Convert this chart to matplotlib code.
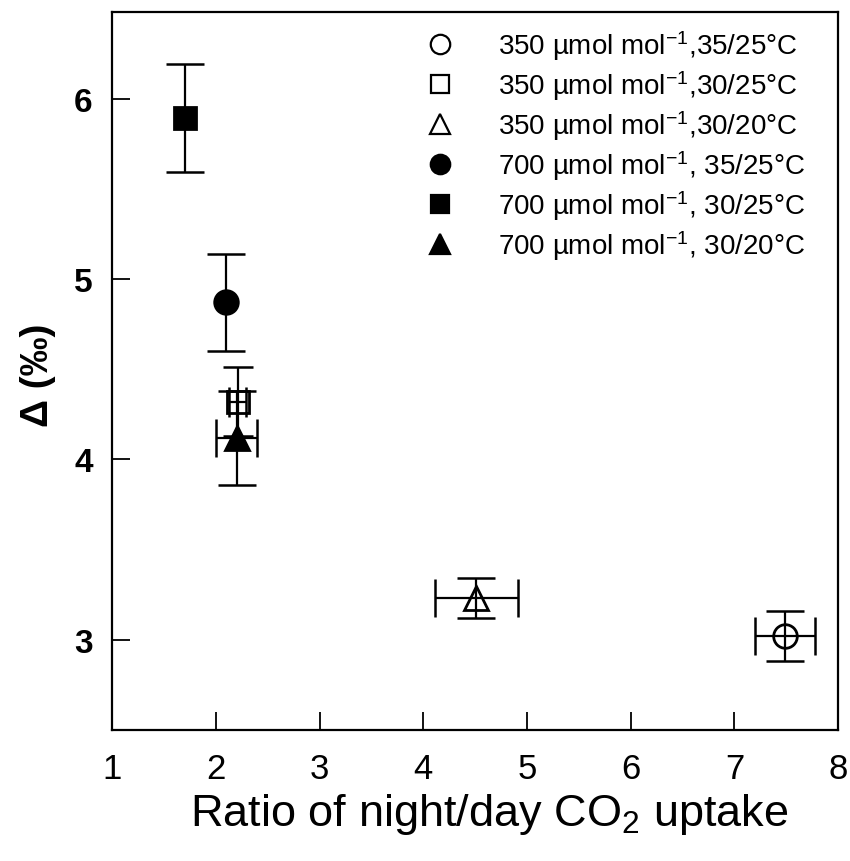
import matplotlib
matplotlib.use("Agg")
import matplotlib.pyplot as plt
from matplotlib.lines import Line2D

plt.rcParams['font.family'] = ['Liberation Sans', 'DejaVu Sans']
plt.rcParams['mathtext.fontset'] = 'custom'
plt.rcParams['mathtext.rm'] = 'Liberation Sans'
plt.rcParams['mathtext.it'] = 'Liberation Sans:italic'
plt.rcParams['mathtext.bf'] = 'Liberation Sans:bold'

labels = [
    "350 µmol mol$^{-1}$,35/25°C",
    "350 µmol mol$^{-1}$,30/25°C",
    "350 µmol mol$^{-1}$,30/20°C",
    "700 µmol mol$^{-1}$, 35/25°C",
    "700 µmol mol$^{-1}$, 30/25°C",
    "700 µmol mol$^{-1}$, 30/20°C",
]
markers = ['o', 's', '^', 'o', 's', '^']
filled = [False, False, False, True, True, True]
ratio = [7.49, 2.21, 4.51, 2.10, 1.70, 2.20]
ratio_err = [0.29, 0.08, 0.40, 0.0, 0.0, 0.20]
delta = [3.02, 4.32, 3.23, 4.87, 5.89, 4.12]
delta_err = [0.14, 0.19, 0.11, 0.27, 0.30, 0.26]

fig = plt.figure(figsize=(8.5, 8.62), dpi=100)
ax = fig.add_axes([0.132, 0.152, 0.854, 0.833])

msize = {'o': 17, 's': 15.5, '^': 17}
lsize = {'o': 14, 's': 13, '^': 14}
handles = []
for lab, m, f, x, xe, y, ye in zip(labels, markers, filled, ratio, ratio_err, delta, delta_err):
    fc = 'black' if f else 'none'
    ax.errorbar(x, y, xerr=xe if xe > 0 else None, yerr=ye, fmt='none',
                ecolor='black', elinewidth=1.6, capsize=14 if xe != 0.08 else 11,
                capthick=1.8, zorder=2)
    ax.plot(x, y, marker=m, markersize=msize[m], markerfacecolor=fc,
            markeredgecolor='black', markeredgewidth=2.0, linestyle='none', zorder=3)
    handles.append(Line2D([], [], marker=m, markersize=lsize[m],
                          markerfacecolor='black' if f else 'white',
                          markeredgecolor='black', markeredgewidth=1.6, linestyle='none'))

ax.set_xlim(1, 8)
ax.set_ylim(2.5, 6.48)
ax.set_xticks(range(1, 9))
ax.set_yticks([3, 4, 5, 6])
ax.tick_params(axis='both', direction='in', length=13, width=1.3)
ax.tick_params(axis='x', labelsize=25, pad=16)
ax.tick_params(axis='y', labelsize=24, pad=14)
for t in ax.get_yticklabels():
    t.set_fontweight('bold')
for s in ax.spines.values():
    s.set_linewidth(1.6)

ax.set_xlabel("Ratio of night/day CO$_2$ uptake", fontsize=32.5)
ax.xaxis.set_label_coords(0.52, -0.085)
ax.set_ylabel("Δ (‰)", fontsize=28, fontweight='bold')
ax.yaxis.set_label_coords(-0.078, 0.495)

leg = ax.legend(handles, labels, loc='upper right', bbox_to_anchor=(0.985, 1.008),
                frameon=False, fontsize=20, handletextpad=1.5, labelspacing=0.22,
                borderaxespad=0.4, handlelength=1.2)

fig.savefig("out.png", dpi=100)
